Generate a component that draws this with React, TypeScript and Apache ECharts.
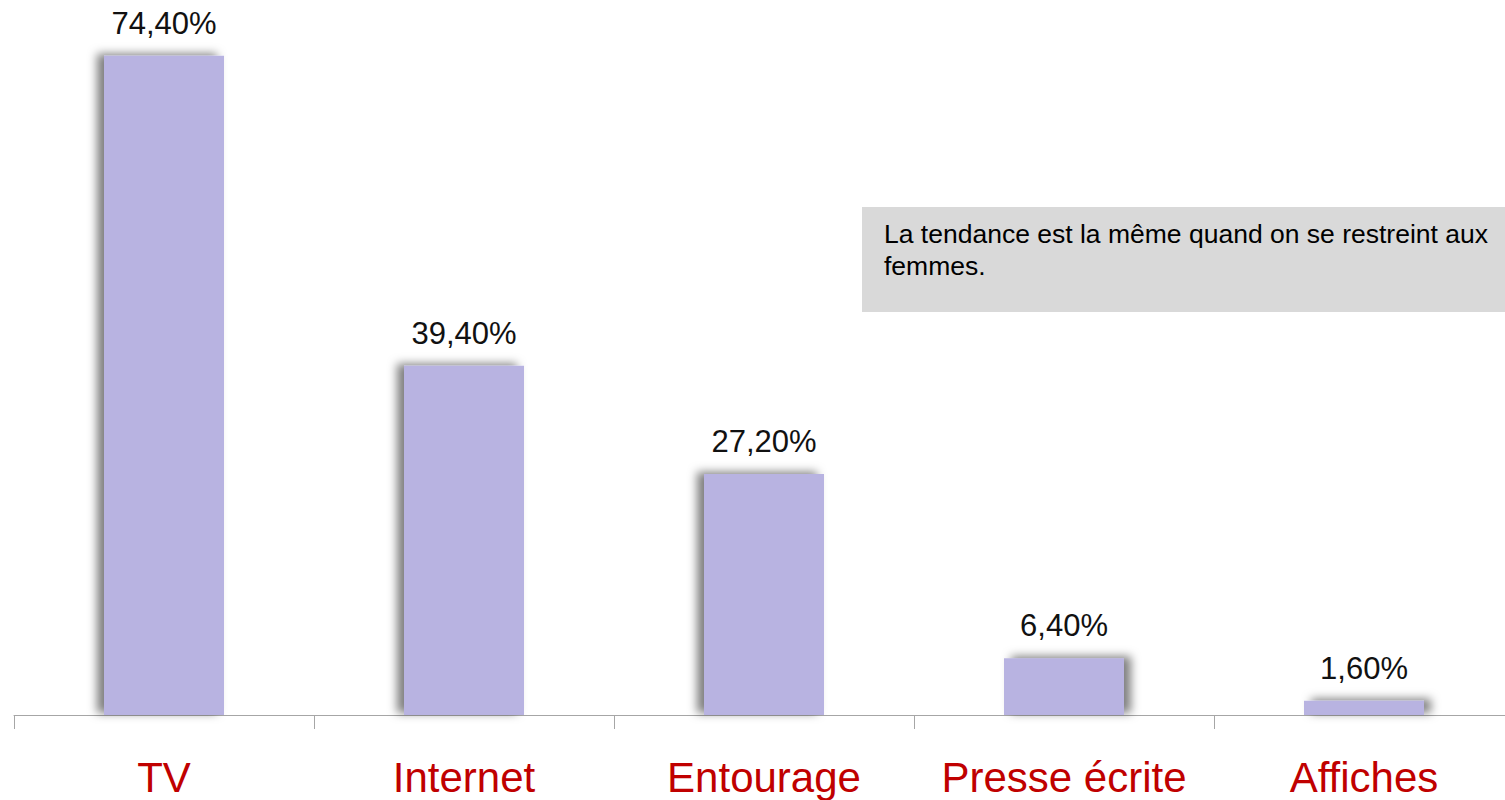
import React, { useEffect, useRef } from "react";
import * as echarts from "echarts";

const categories = ["TV", "Internet", "Entourage", "Presse écrite", "Affiches"];
const values = [74.4, 39.4, 27.2, 6.4, 1.6];
const noteLines = ["La tendance est la même quand on se restreint aux", "femmes."];

export default function App() {
  const ref = useRef<HTMLDivElement>(null);
  useEffect(() => {
    if (!ref.current) return;
    const chart = echarts.init(ref.current, null, { renderer: "svg" });
    chart.setOption({
      animation: false,
      backgroundColor: "#ffffff",
      grid: { left: 14, top: 6, right: 0, bottom: 85, containLabel: false },
      xAxis: {
        type: "category",
        data: categories,
        boundaryGap: true,
        axisLine: { lineStyle: { color: "#a6a6a6", width: 1 } },
        axisTick: { show: true, length: 14, lineStyle: { color: "#a6a6a6" } },
        axisLabel: {
          color: "#c00000",
          fontSize: 42,
          fontFamily: "Liberation Sans, Arial, sans-serif",
          margin: 41,
          interval: 0,
        },
      },
      yAxis: {
        type: "value",
        min: 0,
        max: 80,
        show: false,
        splitLine: { show: false },
      },
      graphic: [
        {
          type: "rect",
          left: 862,
          top: 207,
          shape: { width: 660, height: 105 },
          style: { fill: "#d9d9d9" },
          z: 10,
        },
        {
          type: "text",
          left: 884,
          top: 218,
          style: {
            text: noteLines.join("\n"),
            fill: "#000000",
            font: "26.5px 'Liberation Sans', Arial, sans-serif",
            lineHeight: 32,
          },
          z: 11,
        },
      ],
      series: [
        {
          type: "bar",
          barWidth: 120,
          data: values.map((v, i) => ({
            value: v,
            itemStyle: {
              color: "#b8b3e1",
              shadowColor: "rgba(0,0,0,0.5)",
              shadowBlur: 10,
              shadowOffsetX: i < 3 ? -7 : 7,
              shadowOffsetY: -2,
            },
          })),
          label: {
            show: true,
            position: "top",
            distance: 17,
            color: "#111111",
            fontSize: 31,
            fontFamily: "Liberation Sans, Arial, sans-serif",
            formatter: (p: any) => p.value.toFixed(2).replace(".", ",") + "%",
          },
        },
      ],
    });
    return () => chart.dispose();
  }, []);
  return (
    <div
      style={{
        position: "fixed",
        left: 0,
        top: 0,
        width: 1505,
        height: 800,
        overflow: "hidden",
        background: "#ffffff",
      }}
    >
      <div ref={ref} style={{ width: 1514, height: 800 }} />
    </div>
  );
}
